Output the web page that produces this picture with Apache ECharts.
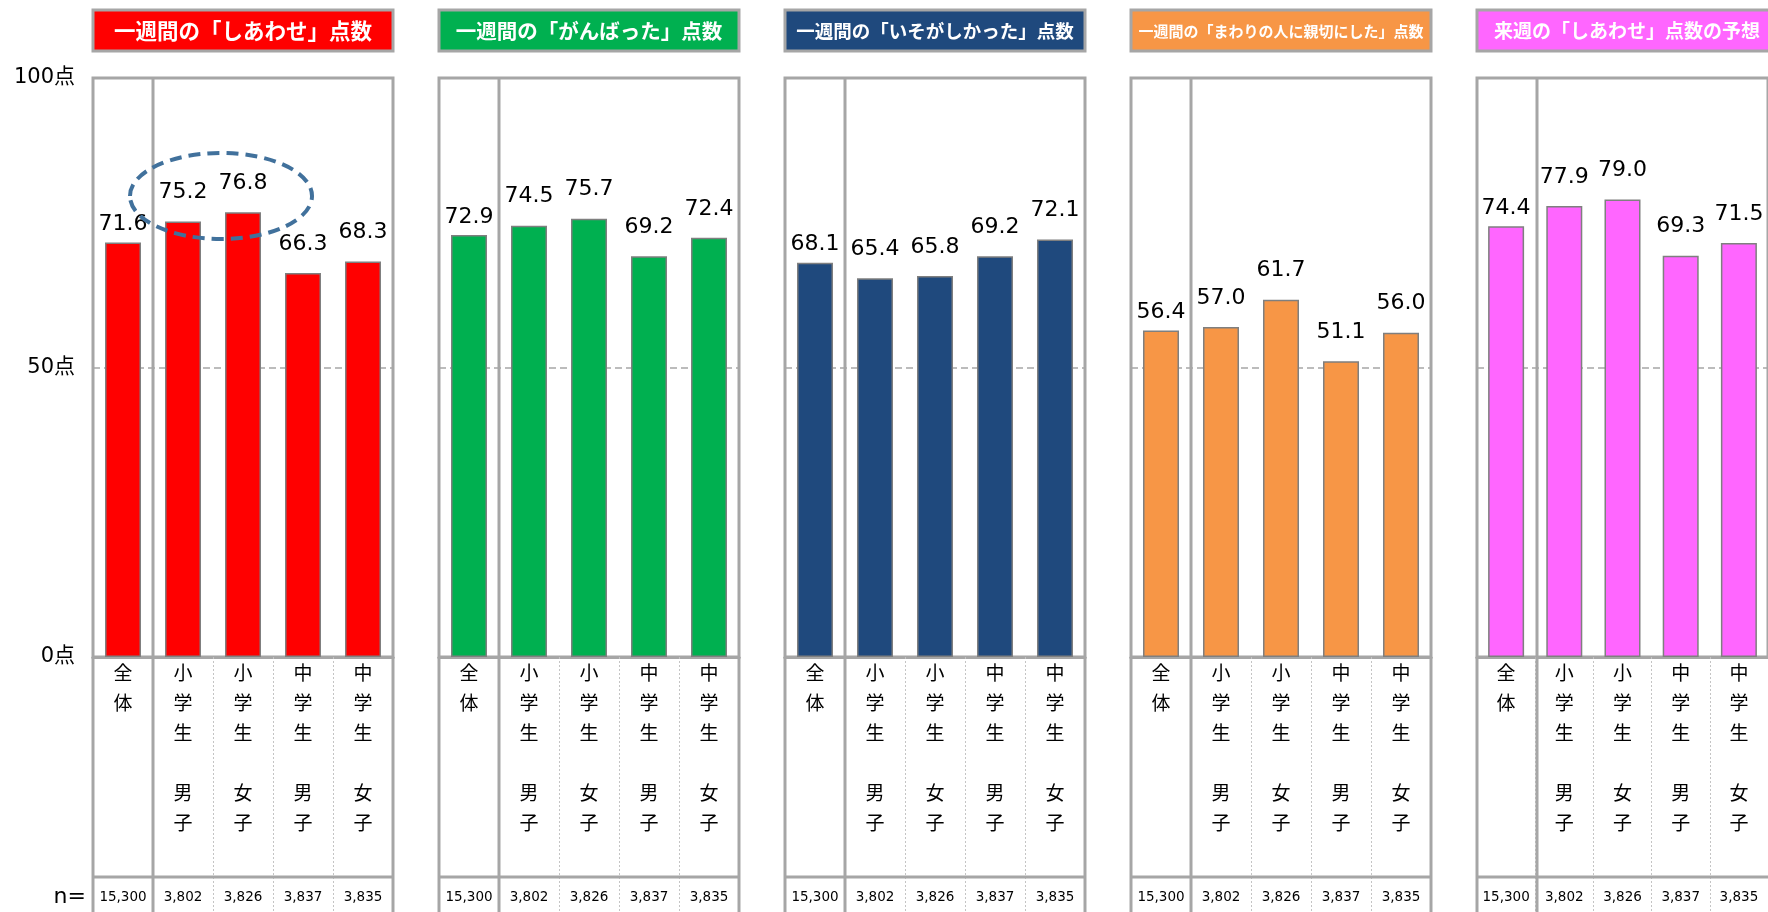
<!DOCTYPE html>
<html><head><meta charset="utf-8">
<style>html,body{margin:0;padding:0;background:#fff}#c{width:1768px;height:912px}</style>
<script src="https://cdn.jsdelivr.net/npm/echarts@6/dist/echarts.min.js"></script>
</head><body><div id="c"></div>
<script>
// ---- data ----
const categories = ['全体', '小学生 男子', '小学生 女子', '中学生 男子', '中学生 女子'];
const sampleSizes = [15300, 3802, 3826, 3837, 3835];
const panelTitles = [
  '一週間の「しあわせ」点数',
  '一週間の「がんばった」点数',
  '一週間の「いそがしかった」点数',
  '一週間の「まわりの人に親切にした」点数',
  '来週の「しあわせ」点数の予想'
];
const happiness = [71.6, 75.2, 76.8, 66.3, 68.3];
const effort    = [72.9, 74.5, 75.7, 69.2, 72.4];
const busy      = [68.1, 65.4, 65.8, 69.2, 72.1];
const kindness  = [56.4, 57.0, 61.7, 51.1, 56.0];
const nextWeek  = [74.4, 77.9, 79.0, 69.3, 71.5];
const yTicks = [0, 50, 100];
const unitLabel = '点';
const nLabel = 'n=';

// ---- layout / style ----
const panelValues = [happiness, effort, busy, kindness, nextWeek];
const panelColors = ['#FF0000', '#00B050', '#1F497D', '#F79646', '#FF66FF'];
const titleFontSizes = [21.5, 20.5, 18.5, 15, 19];
const L0 = 93, STEP = 346, W = 300, TOP = 78, BOT = 657, H = BOT - TOP;
const CW = W / categories.length, TABLE_BOT = 912, NROW_TOP = 877, NROW_MID = 897;
const FRAME = '#a6a6a6';
const CJK = '"Noto Sans CJK JP", sans-serif';
const NUM = '"DejaVu Sans", "Noto Sans CJK JP", sans-serif';

const chart = echarts.init(document.getElementById('c'), null, {renderer: 'canvas'});
const grid = [], xAxis = [], yAxis = [], series = [], graphic = [];

panelValues.forEach((vals, i) => {
  const gx = L0 + i * STEP;
  grid.push({left: gx, top: TOP, width: W, height: H, show: true,
    borderColor: FRAME, borderWidth: 3, backgroundColor: 'transparent', containLabel: false});
  xAxis.push({
    type: 'category', gridIndex: i, data: categories, position: 'bottom',
    axisLine: {show: true, lineStyle: {color: FRAME, width: 3}},
    axisTick: {show: true, interval: 0, length: TABLE_BOT - BOT,
      lineStyle: {color: '#c4c4c4', width: 1, type: [2, 2]}},
    axisLabel: {interval: 0, margin: 1, verticalAlign: 'top', color: '#000',
      fontFamily: CJK, fontSize: 19, lineHeight: 30,
      formatter: v => v.split('').map(c => c === ' ' ? ' ' : c).join('\n')},
    splitLine: {show: false}
  });
  xAxis.push({
    type: 'category', gridIndex: i, position: 'bottom', offset: NROW_MID - BOT,
    data: sampleSizes.map(n => n.toLocaleString('en-US')),
    axisLine: {show: false}, axisTick: {show: false}, splitLine: {show: false},
    axisLabel: {interval: 0, margin: 0, verticalAlign: 'middle', color: '#000',
      fontFamily: NUM, fontSize: 13.5},
    name: i === 0 ? nLabel : '', nameLocation: 'start', nameGap: 7,
    nameTextStyle: {fontFamily: NUM, fontSize: 22, color: '#000', padding: [9, 0, 0, 0]}
  });
  yAxis.push({
    type: 'value', gridIndex: i, min: yTicks[0], max: yTicks[yTicks.length - 1],
    interval: yTicks[1] - yTicks[0],
    axisLine: {show: false}, axisTick: {show: false},
    axisLabel: {show: i === 0, formatter: '{value}' + unitLabel, margin: 18,
      fontSize: 21, color: '#000', fontFamily: NUM},
    splitLine: {show: true, lineStyle: {color: FRAME, width: 1.5, type: [7, 4]}}
  });
  series.push({
    type: 'bar', xAxisIndex: 2 * i, yAxisIndex: i, barWidth: 36,
    data: vals.map((v, k) => k === 0 ? {value: v, label: {distance: 7}} : v),
    itemStyle: {color: panelColors[i], borderColor: '#7f7f7f', borderWidth: 1.5},
    label: {show: true, position: 'top', distance: 18, color: '#000',
      fontFamily: NUM, fontSize: 22, formatter: p => p.value.toFixed(1)},
    animation: false
  });
  // title box
  graphic.push({type: 'rect', shape: {x: gx, y: 10, width: W, height: 41},
    style: {fill: panelColors[i], stroke: FRAME, lineWidth: 3}, z: 10});
  graphic.push({type: 'text', x: gx + W / 2, y: 31, z: 11,
    style: {text: panelTitles[i], fill: '#fff', align: 'center', verticalAlign: 'middle',
      textAlign: 'center', textVerticalAlign: 'middle',
      font: 'bold ' + titleFontSizes[i] + 'px ' + CJK}});
  // table frame
  const solid = {stroke: FRAME, lineWidth: 3};
  graphic.push({type: 'line', shape: {x1: gx, y1: BOT, x2: gx, y2: TABLE_BOT}, style: solid, z: 5});
  graphic.push({type: 'line', shape: {x1: gx + CW, y1: TOP, x2: gx + CW, y2: TABLE_BOT}, style: solid, z: 5});
  graphic.push({type: 'line', shape: {x1: gx + W, y1: BOT, x2: gx + W, y2: TABLE_BOT}, style: solid, z: 5});
  graphic.push({type: 'line', shape: {x1: gx, y1: NROW_TOP, x2: gx + W, y2: NROW_TOP}, style: solid, z: 5});
});

// dashed highlight ellipse around the elementary-school values
graphic.push({type: 'ellipse', z: 100, shape: {cx: 221, cy: 196, rx: 91, ry: 43},
  style: {fill: 'none', stroke: '#41719C', lineWidth: 4, lineDash: [12, 7]}});

chart.setOption({
  backgroundColor: '#fff', animation: false,
  grid, xAxis, yAxis, series, graphic
});
</script></body></html>
